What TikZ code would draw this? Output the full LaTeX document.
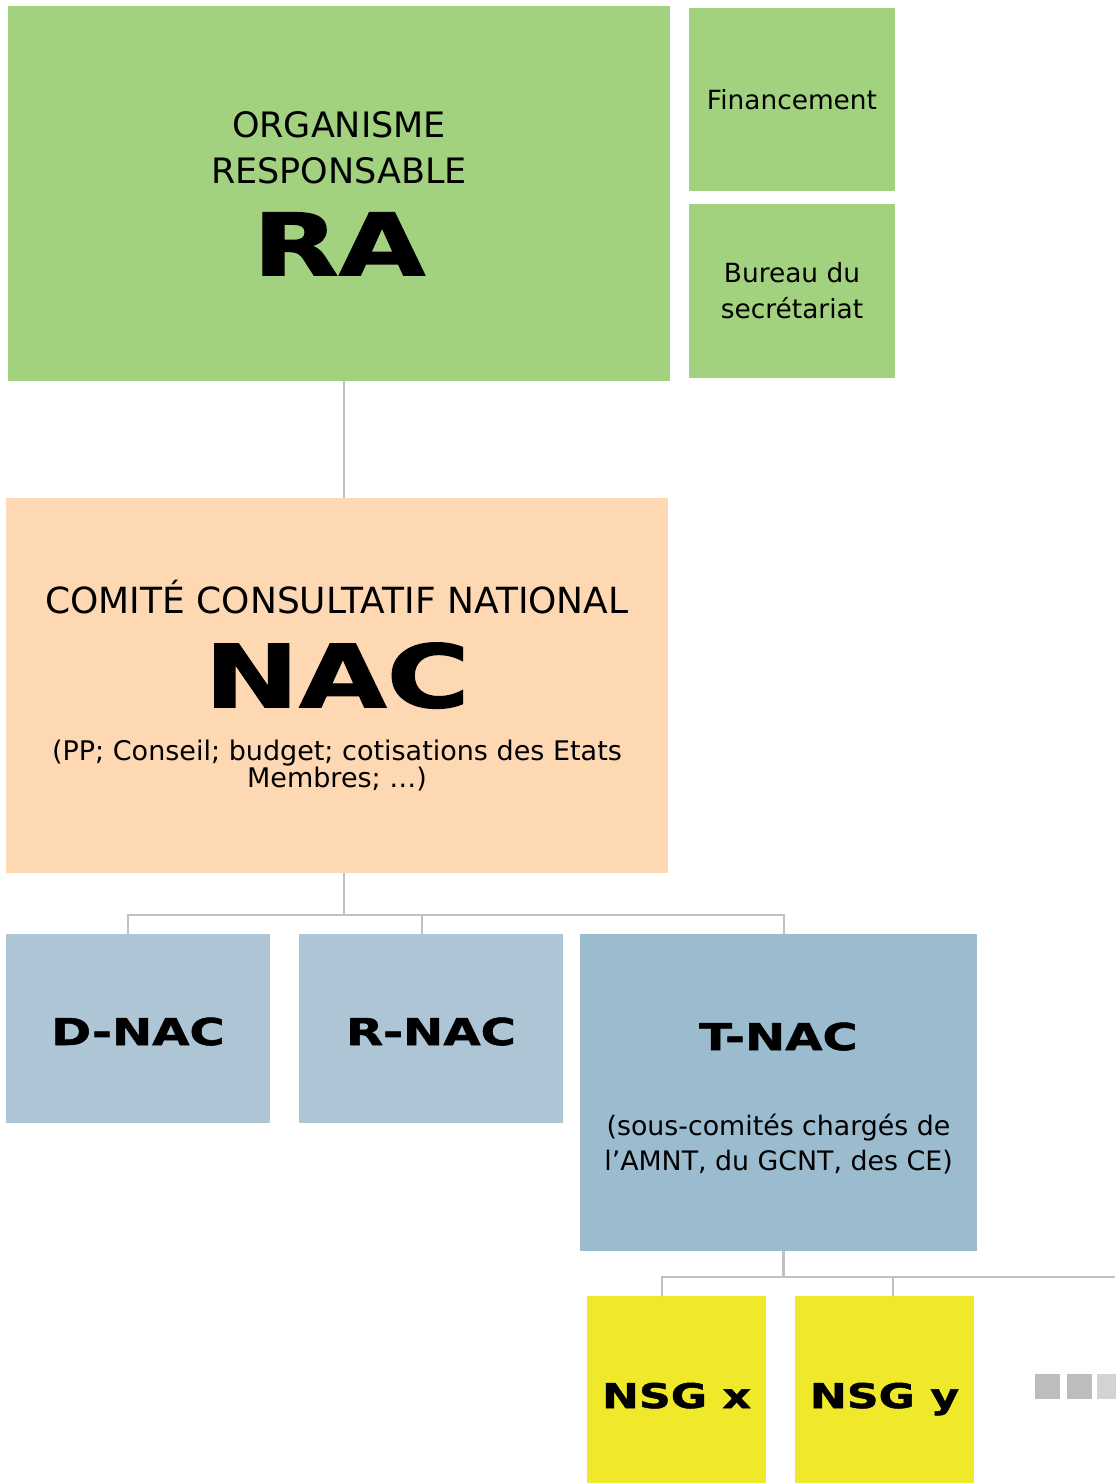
\documentclass[tikz,border=0pt]{standalone}
\usepackage{fontspec}
\setmainfont{DejaVu Sans}
\newfontfamily\heavyfont[FakeStretch=1.3,FakeBold=1.5]{DejaVu Sans}

\definecolor{orgGreen}{RGB}{162,209,128}
\definecolor{nacPeach}{RGB}{253,216,178}
\definecolor{subBlue}{RGB}{173,197,212}
\definecolor{techBlue}{RGB}{155,187,207}
\definecolor{nsgYellow}{RGB}{240,232,42}
\definecolor{linkGray}{RGB}{192,192,192}
\definecolor{moreGray}{RGB}{189,189,190}
\definecolor{moreLight}{RGB}{211,211,212}

\newcommand{\bigabbr}[2]{{\heavyfont\bfseries\fontsize{#1}{#1}\selectfont #2}}
\newcommand{\midabbr}[1]{{\heavyfont\bfseries\fontsize{18.5}{18.5}\selectfont #1}}
\newcommand{\nsgabbr}[1]{{\heavyfont\bfseries\fontsize{17}{17}\selectfont #1}}

\tikzset{
  box/.style={inner sep=0pt, outer sep=0pt, align=center, text=black},
  subbox/.style={box, fill=subBlue, minimum width=132pt, minimum height=94.5pt,
    text height=16.5pt, text depth=0pt},
  nsgbox/.style={box, fill=nsgYellow, minimum width=89.5pt, minimum height=93.5pt,
    text height=18.5pt, text depth=0pt},
  link/.style={draw=linkGray, line width=1.3pt},
}

\begin{document}
\begin{tikzpicture}[x=0.5pt,y=-0.5pt]
        \useasboundingbox (0,0) rectangle (1115,1483) ;
        % organisme responsable
        \node[box,fill=orgGreen,minimum width=331pt,minimum height=187.5pt,
          font=\fontsize{17.5}{23}\selectfont] (ra) at (339,193.5)
          {ORGANISME\\RESPONSABLE\\[13.2pt]\bigabbr{43}{RA}} ;
        \node[box,fill=orgGreen,minimum width=103pt,minimum height=91.5pt,
          font=\fontsize{13.2}{18}\selectfont] (fin) at (792,99.5) {Financement} ;
        \node[box,fill=orgGreen,minimum width=103pt,minimum height=87pt,
          font=\fontsize{13.2}{18}\selectfont] (bur) at (792,291) {Bureau du\\secrétariat} ;
        % comite consultatif national
        \node[box,fill=nacPeach,minimum width=331pt,minimum height=187.5pt,
          font=\fontsize{18}{13.5}\selectfont] (nac) at (337,685.5)
          {COMITÉ CONSULTATIF NATIONAL\\[13.3pt]\bigabbr{43.5}{NAC}\\[13pt]
           \fontsize{13.5}{13.5}\selectfont (PP; Conseil; budget; cotisations des Etats\\
           \fontsize{13.5}{13.5}\selectfont Membres; …)} ;
        % sous-comites
        \node[subbox] (dnac) at (138,1028.5) {\midabbr{D-NAC}} ;
        \node[subbox] (rnac) at (431,1028.5) {\midabbr{R-NAC}} ;
        \node[box,fill=techBlue,minimum width=198.5pt,minimum height=158.5pt,
          text height=80.5pt,text depth=3pt,
          font=\fontsize{13.4}{17.5}\selectfont] (tnac) at (778.5,1092.5)
          {\midabbr{T-NAC}\\[25pt](sous-comités chargés de\\l’AMNT, du GCNT, des CE)} ;
        \node[nsgbox] (nsgx) at (676.5,1389.5) {\nsgabbr{NSG x}} ;
        \node[nsgbox] (nsgy) at (884.5,1389.5) {\nsgabbr{NSG y}} ;
        % liaisons
        \coordinate (nacbus) at (344,915) ;
        \coordinate (nsgbus) at (783.5,1277) ;
        \coordinate (busend) at (1115,1277) ;
        \draw[link] ([xshift=2.5pt]ra.south) -- ([xshift=2.5pt]ra.south |- nac.north) ;
        \draw[link] (nacbus |- nac.south) -- (nacbus) ;
        \draw[link] ([xshift=-5pt]dnac.north) |- (nacbus) -| ([xshift=2.75pt]tnac.north) ;
        \draw[link] ([xshift=-4.5pt]rnac.north) -- ([xshift=-4.5pt]rnac.north |- nacbus) ;
        \draw[link] (nsgbus |- tnac.south) -- (nsgbus) ;
        \draw[link] ([xshift=-7.25pt]nsgx.north) |- (busend) ;
        \draw[link] ([xshift=4.25pt]nsgy.north) -- ([xshift=4.25pt]nsgy.north |- nsgbus) ;
        % suite
        \foreach \x in {1035,1067}
          \fill[moreGray] (\x,1374) rectangle ++(25,25) ;
        \fill[moreLight] (1097,1374) rectangle ++(25,25) ;
\end{tikzpicture}
\end{document}
